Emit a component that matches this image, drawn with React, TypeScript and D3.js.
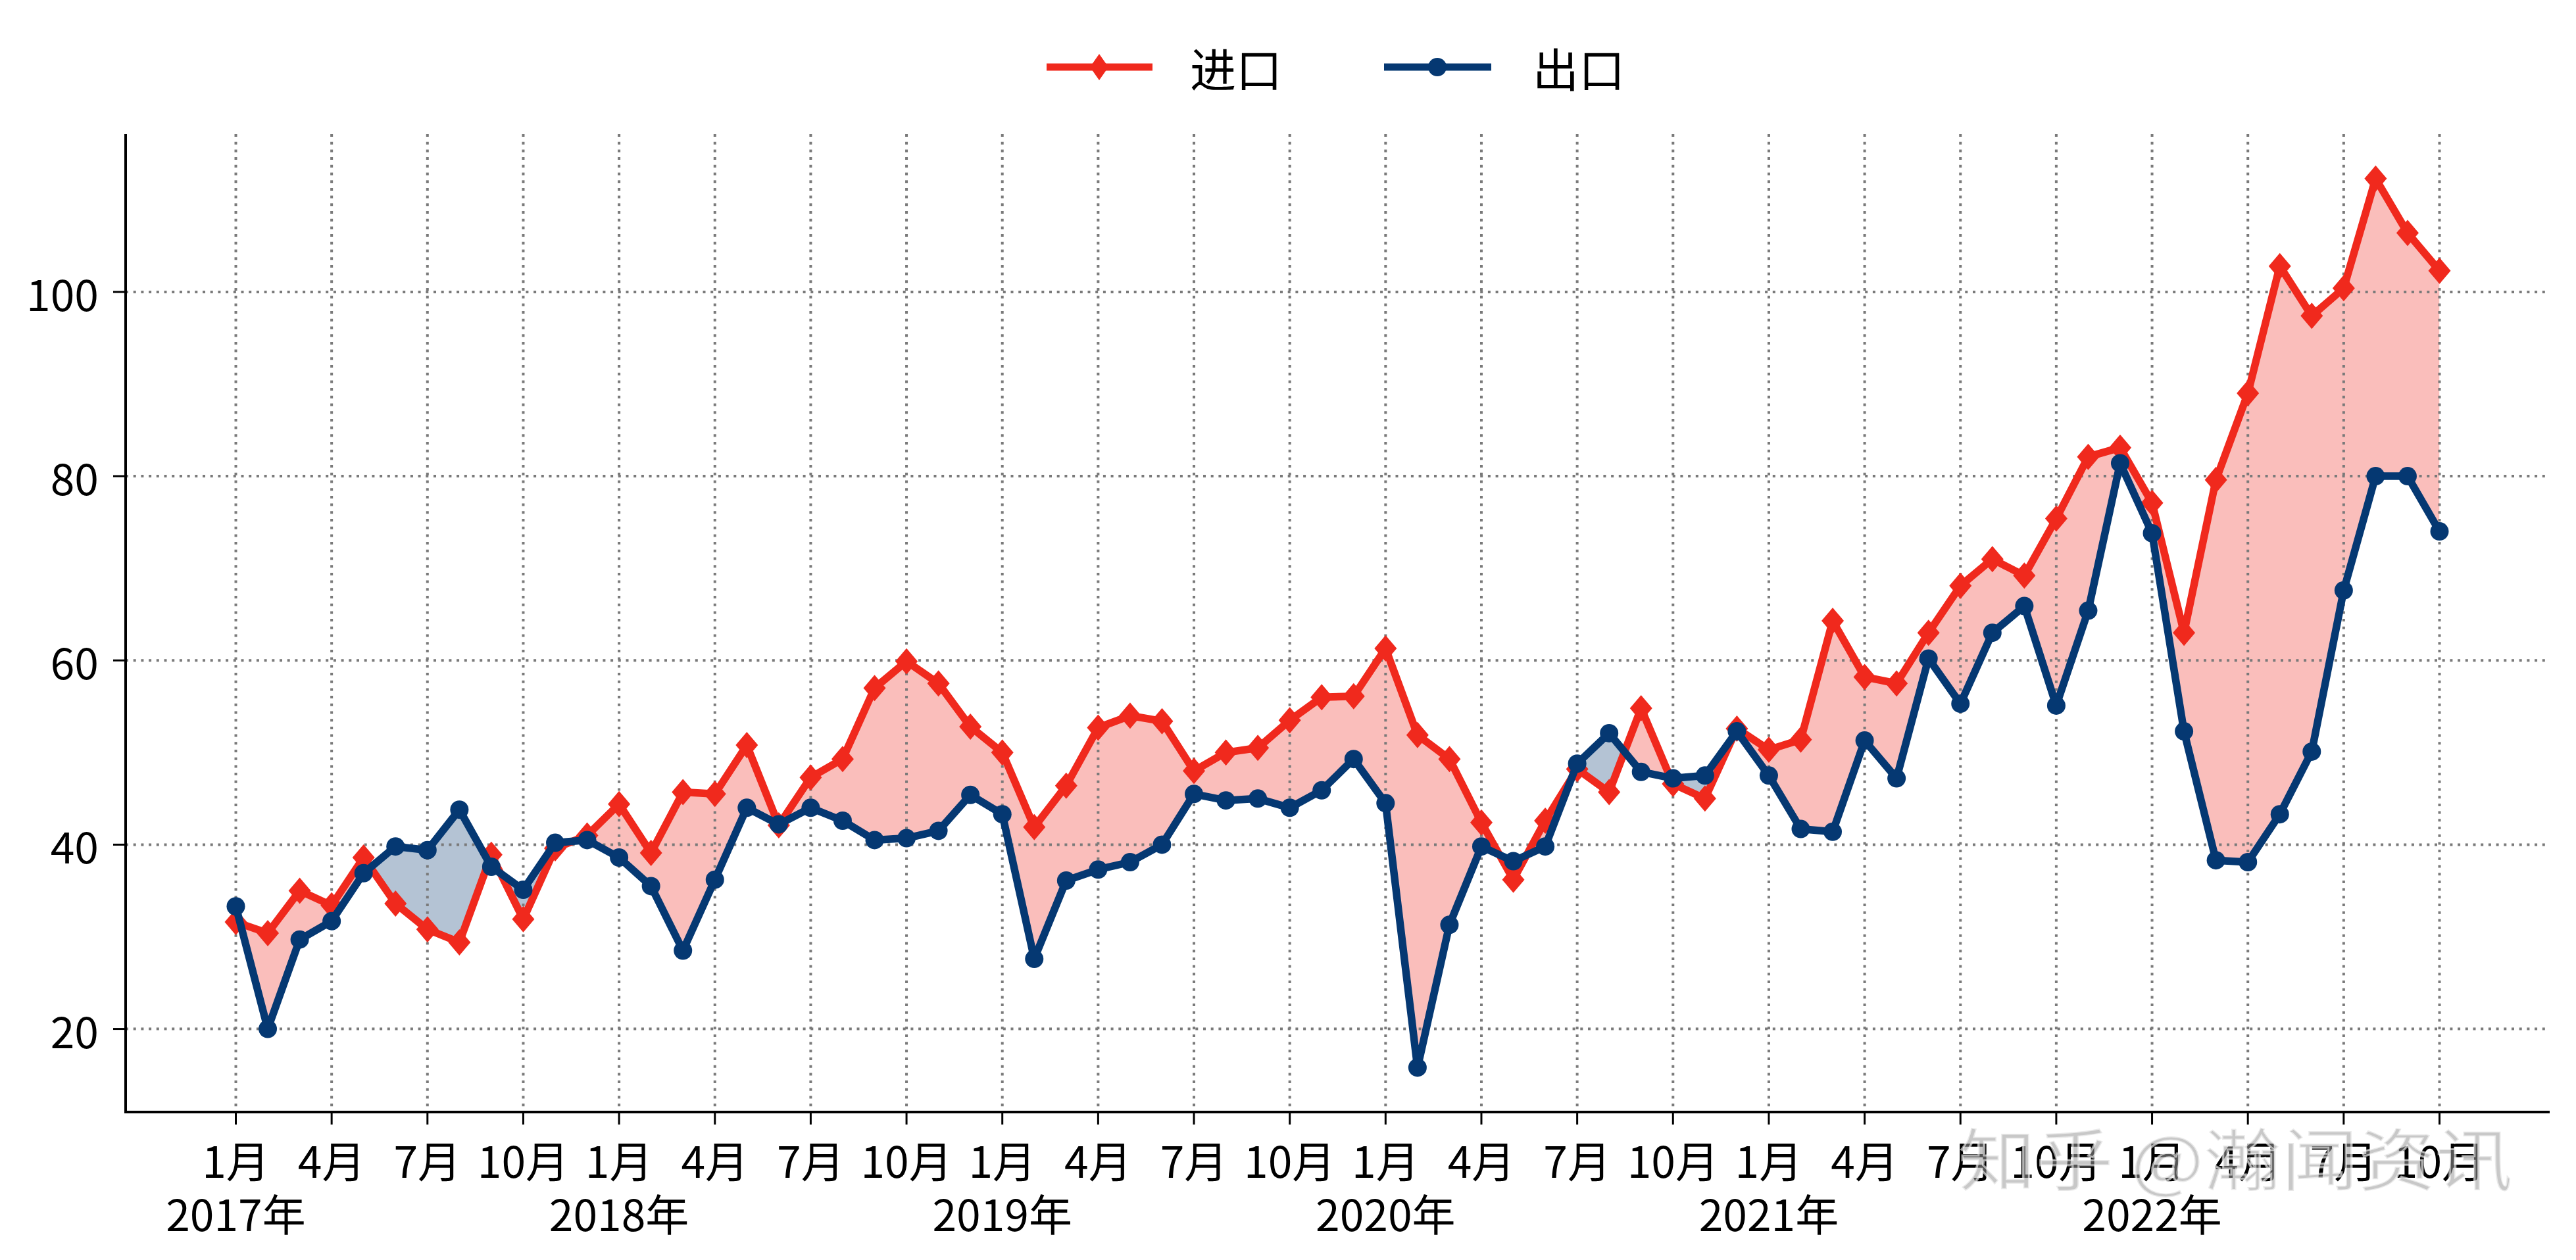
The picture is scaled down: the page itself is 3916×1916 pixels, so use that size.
import React from 'react';
import * as d3 from 'd3';

// ---- Data (monthly, Jan 2017 – Oct 2022) ----
const years = ['2017年', '2018年', '2019年', '2020年', '2021年', '2022年'];
const monthNames = ['1月', '2月', '3月', '4月', '5月', '6月', '7月', '8月', '9月', '10月', '11月', '12月'];
const categories: { year: string; month: string }[] = [];
years.forEach((yr, yi) => {
  const n = yi === years.length - 1 ? 10 : 12;
  for (let m = 0; m < n; m++) categories.push({ year: yr, month: monthNames[m] });
});

const importVals = [
  31.6, 30.4, 35.0, 33.4, 38.6, 33.6, 30.8, 29.4, 38.9, 31.9, 39.6, 41.0,
  44.4, 39.1, 45.7, 45.5, 50.8, 42.1, 47.3, 49.3, 57.0, 59.9, 57.5, 52.8,
  50.0, 41.9, 46.4, 52.7, 54.0, 53.4, 48.0, 50.0, 50.5, 53.5, 56.0, 56.1,
  61.3, 51.9, 49.3, 42.4, 36.2, 42.6, 48.2, 45.7, 54.8, 46.6, 45.0, 52.6,
  50.3, 51.4, 64.3, 58.2, 57.5, 63.0, 68.1, 71.0, 69.2, 75.4, 82.1, 83.1,
  77.1, 63.0, 79.6, 89.0, 102.8, 97.4, 100.4, 112.3, 106.4, 102.3,
];
const exportVals = [
  33.3, 20.0, 29.7, 31.7, 36.9, 39.8, 39.4, 43.8, 37.6, 35.1, 40.2, 40.5,
  38.6, 35.5, 28.5, 36.2, 44.0, 42.2, 44.0, 42.6, 40.5, 40.7, 41.5, 45.4,
  43.3, 27.6, 36.1, 37.3, 38.1, 40.0, 45.5, 44.8, 45.0, 44.0, 45.9, 49.3,
  44.5, 15.8, 31.3, 39.8, 38.2, 39.8, 48.8, 52.1, 47.9, 47.2, 47.5, 52.3,
  47.5, 41.7, 41.4, 51.3, 47.2, 60.2, 55.3, 63.0, 65.9, 55.1, 65.4, 81.4,
  73.8, 52.3, 38.3, 38.1, 43.3, 50.1, 67.6, 80.0, 80.0, 74.0,
];
const yTicks = [20, 40, 60, 80, 100];
const seriesNames = ['进口', '出口'];

const W = 3916;
const H = 1916;
const M = { left: 191, right: 3876, top: 204, bottom: 1691 };
const RED = '#F0291D';
const NAVY = '#053872';
const FONT = '"Noto Sans CJK SC", "Noto Sans", sans-serif';

export default function App() {
  const n = importVals.length;
  const xPad = (n - 1) * 0.05;
  const x = d3.scaleLinear().domain([-xPad, n - 1 + xPad]).range([M.left, M.right]);
  const all = importVals.concat(exportVals);
  const lo = d3.min(all)!;
  const hi = d3.max(all)!;
  const yPad = (hi - lo) * 0.05;
  const y = d3.scaleLinear().domain([lo - yPad, hi + yPad]).range([M.bottom, M.top]);

  const idx = d3.range(n);
  const lineGen = (vals: number[]) =>
    d3.line<number>().x((i) => x(i)).y((i) => y(vals[i]))(idx) || '';
  const between = d3
    .area<number>()
    .x((i) => x(i))
    .y0((i) => y(exportVals[i]))
    .y1((i) => y(importVals[i]))(idx) || '';
  const aboveExp = d3
    .area<number>()
    .x((i) => x(i))
    .y0(() => M.top - 50)
    .y1((i) => y(exportVals[i]))(idx) || '';
  const belowExp = d3
    .area<number>()
    .x((i) => x(i))
    .y0((i) => y(exportVals[i]))
    .y1(() => M.bottom + 50)(idx) || '';

  const xTickIdx = idx.filter((i) => i % 3 === 0);
  const diamond = 'M0,-20 L17,0 L0,20 L-17,0 Z';

  return (
    <svg
      width={W}
      height={H}
      style={{ position: 'absolute', left: 0, top: 0, display: 'block', background: '#fff' }}
      fontFamily={FONT}
    >
      <defs>
        <clipPath id="clipAbove">
          <path d={aboveExp} />
        </clipPath>
        <clipPath id="clipBelow">
          <path d={belowExp} />
        </clipPath>
      </defs>
      <rect x={0} y={0} width={W} height={H} fill="#fff" />

      {/* fills */}
      <path d={between} fill={RED} fillOpacity={0.3} clipPath="url(#clipAbove)" />
      <path d={between} fill={NAVY} fillOpacity={0.3} clipPath="url(#clipBelow)" />

      {/* grid */}
      <g stroke="#7a7a7a" strokeWidth={4} strokeDasharray="4 7.7">
        {xTickIdx.map((i) => (
          <line key={'gx' + i} x1={x(i)} x2={x(i)} y1={M.top} y2={M.bottom} />
        ))}
        {yTicks.map((t) => (
          <line key={'gy' + t} x1={M.left} x2={M.right} y1={y(t)} y2={y(t)} />
        ))}
      </g>

      {/* lines */}
      <path d={lineGen(importVals)} fill="none" stroke={RED} strokeWidth={11.5} strokeLinejoin="round" strokeLinecap="round" />
      {idx.map((i) => (
        <path key={'di' + i} d={diamond} transform={`translate(${x(i)},${y(importVals[i])})`} fill={RED} />
      ))}
      <path d={lineGen(exportVals)} fill="none" stroke={NAVY} strokeWidth={11.5} strokeLinejoin="round" strokeLinecap="round" />
      {idx.map((i) => (
        <circle key={'ci' + i} cx={x(i)} cy={y(exportVals[i])} r={14} fill={NAVY} />
      ))}

      {/* spines */}
      <line x1={M.left} x2={M.left} y1={M.top} y2={M.bottom + 2} stroke="#000" strokeWidth={4} />
      <line x1={M.left - 2} x2={M.right} y1={M.bottom} y2={M.bottom} stroke="#000" strokeWidth={4} />

      {/* y ticks */}
      {yTicks.map((t) => (
        <g key={'yt' + t}>
          <line x1={M.left - 19} x2={M.left} y1={y(t)} y2={y(t)} stroke="#000" strokeWidth={3} />
          <text x={150} y={y(t)} textAnchor="end" dominantBaseline="central" fontSize={66} fill="#000">
            {t}
          </text>
        </g>
      ))}

      {/* x ticks */}
      {xTickIdx.map((i) => (
        <g key={'xt' + i}>
          <line x1={x(i)} x2={x(i)} y1={M.bottom} y2={M.bottom + 19} stroke="#000" strokeWidth={3} />
          <text x={x(i)} y={1762} textAnchor="middle" dominantBaseline="central" fontSize={66} fill="#000">
            {categories[i].month}
          </text>
          {categories[i].month === '1月' && (
            <text x={x(i)} y={1843} textAnchor="middle" dominantBaseline="central" fontSize={66} fill="#000">
              {categories[i].year}
            </text>
          )}
        </g>
      ))}

      {/* legend */}
      <g>
        <line x1={1591} x2={1752} y1={102} y2={102} stroke={RED} strokeWidth={11} />
        <path d="M0,-20 L14,0 L0,20 L-14,0 Z" transform="translate(1671,102)" fill={RED} />
        <text x={1809} y={102} dominantBaseline="central" fontSize={70} fill="#000">
          {seriesNames[0]}
        </text>
        <line x1={2104} x2={2267} y1={102} y2={102} stroke={NAVY} strokeWidth={11} />
        <circle cx={2185} cy={102} r={14} fill={NAVY} />
        <text x={2330} y={102} dominantBaseline="central" fontSize={70} fill="#000">
          {seriesNames[1]}
        </text>
      </g>

      {/* watermark */}
      <text
        x={2978}
        y={1757}
        dominantBaseline="central"
        fontSize={104}
        textLength={842}
        lengthAdjust="spacingAndGlyphs"
        fill="#9a9a9a"
        fillOpacity={0.55}
        stroke="#ffffff"
        strokeOpacity={0.6}
        strokeWidth={3}
      >
        知乎 @瀚闻资讯
      </text>
    </svg>
  );
}
